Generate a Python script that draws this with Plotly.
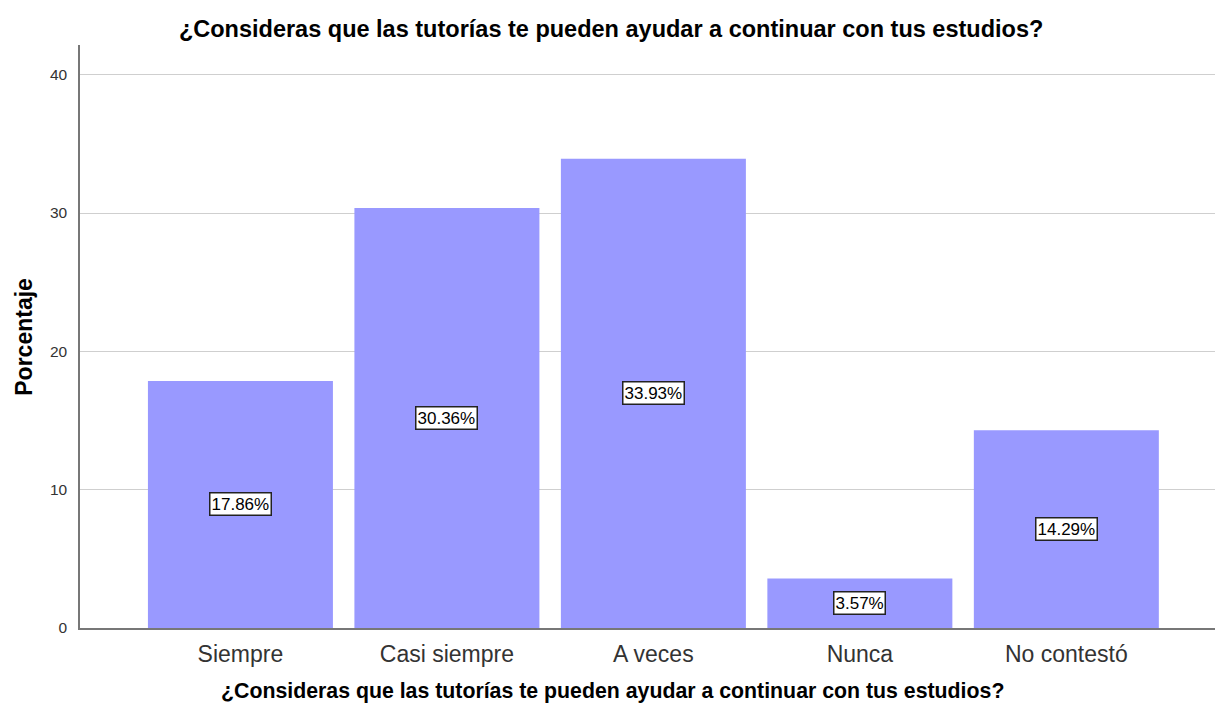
import plotly.graph_objects as go

# Datos
categorias = ["Siempre", "Casi siempre", "A veces", "Nunca", "No contestó"]
porcentajes = [17.86, 30.36, 33.93, 3.57, 14.29]
etiquetas = ["17.86%", "30.36%", "33.93%", "3.57%", "14.29%"]
titulo = "¿Consideras que las tutorías te pueden ayudar a continuar con tus estudios?"

FUENTE = "Arial, Liberation Sans, sans-serif"

fig = go.Figure()
fig.add_trace(go.Bar(
    x=list(range(len(categorias))),
    y=porcentajes,
    marker=dict(color="#9999FF", line=dict(width=0)),
    hoverinfo="skip",
    showlegend=False,
))

# Etiquetas en caja en medio de cada barra
for i, (v, t) in enumerate(zip(porcentajes, etiquetas)):
    fig.add_annotation(
        x=i, y=v / 2, text=t, showarrow=False,
        font=dict(family=FUENTE, size=17, color="black"),
        bgcolor="white", bordercolor="#222222", borderwidth=1.5, borderpad=1,
    )

# Título del eje x
fig.add_annotation(
    text=f"<b>{titulo}</b>", xref="paper", yref="paper",
    x=0.4695, y=-0.108, xanchor="center", yanchor="middle", showarrow=False,
    font=dict(family=FUENTE, size=21.3, color="black"),
)
# Título del eje y
fig.add_annotation(
    text="<b>Porcentaje</b>", xref="paper", yref="paper",
    x=-0.05, y=0.5, xanchor="center", yanchor="middle", showarrow=False,
    textangle=-90,
    font=dict(family=FUENTE, size=23, color="black"),
)

fig.update_layout(
    width=1215, height=711,
    margin=dict(l=80, r=0, t=45, b=83),
    paper_bgcolor="white", plot_bgcolor="white",
    bargap=0.104,
    title=dict(
        text=f"<b>{titulo}</b>", x=0.503, xanchor="center", y=0.96, yanchor="middle",
        font=dict(family=FUENTE, size=23.5, color="black"),
    ),
    xaxis=dict(
        range=[-0.777, 4.72],
        tickmode="array", tickvals=list(range(len(categorias))), ticktext=categorias,
        tickfont=dict(family=FUENTE, size=23, color="#333333"),
        showgrid=False, zeroline=False,
        showline=True, linecolor="#777777", linewidth=1.5,
        ticks="", ticklabelstandoff=5, automargin=False,
    ),
    yaxis=dict(
        range=[0, 42.15],
        tickvals=[0, 10, 20, 30, 40],
        tickfont=dict(family=FUENTE, size=15.5, color="#333333"),
        showgrid=True, gridcolor="#cfcfcf", gridwidth=1.3,
        zeroline=False, showline=True, linecolor="#777777", linewidth=1.5,
        ticks="", ticklabelstandoff=8, automargin=False,
    ),
)

fig.write_html("out.html", config={"displayModeBar": False},
               post_script="document.body.style.margin='0';")
